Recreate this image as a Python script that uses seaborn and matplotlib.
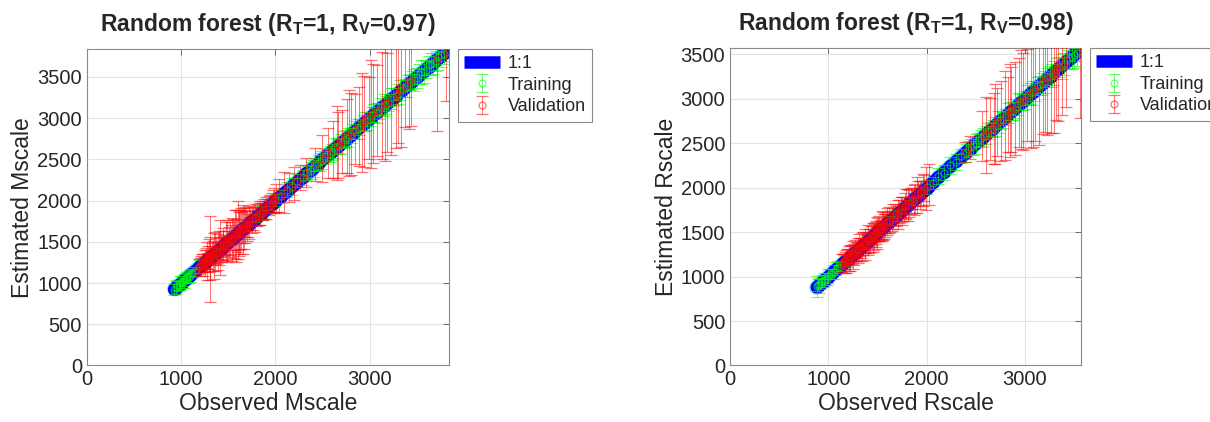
import matplotlib
matplotlib.use("Agg")
import matplotlib.pyplot as plt
import seaborn as sns
from matplotlib.lines import Line2D

# ---- Mscale panel (left) ----
train_obs_m = [930, 960, 990, 1020, 1050, 1080, 1110, 1150, 1190, 1240, 1300, 1370, 1450, 1530,
               1620, 1700, 1780, 1860, 1930, 2000, 2060, 2120, 2180, 2230, 2290, 2340, 2400, 2450,
               2500, 2550, 2600, 2650, 2700, 2750, 2800, 2850, 2900, 2950, 3000, 3050, 3100, 3150,
               3200, 3250, 3300, 3350, 3400, 3450, 3500, 3550, 3600, 3650, 3700, 3760, 3810,
               2325, 2375, 2425, 2475, 2525, 2575, 2625, 2675, 2725, 2775, 2825, 2875, 2925, 2975,
               3025, 3075, 3125, 3175, 3225, 3275, 3325, 3375, 3425, 3475, 3525, 3575, 3625, 3675,
               3725, 3785, 945, 975, 1005, 1035, 1065, 1095]
train_est_m = [920, 975, 1000, 1010, 1060, 1075, 1120, 1140, 1200, 1230, 1310, 1360, 1460, 1520,
               1630, 1690, 1790, 1850, 1940, 2010, 2050, 2130, 2170, 2240, 2280, 2350, 2390, 2460,
               2490, 2560, 2590, 2660, 2690, 2760, 2790, 2860, 2890, 2960, 2990, 3060, 3090, 3160,
               3190, 3260, 3290, 3360, 3390, 3460, 3490, 3560, 3590, 3660, 3690, 3770, 3800,
               2340, 2365, 2440, 2465, 2540, 2565, 2640, 2665, 2740, 2765, 2840, 2865, 2940, 2965,
               3040, 3065, 3140, 3165, 3240, 3265, 3340, 3365, 3440, 3465, 3540, 3565, 3640, 3665,
               3740, 3775, 950, 965, 1015, 1025, 1075, 1085]
train_err_m = [70, 60, 80, 50, 60, 70, 50, 60, 80, 50, 60, 70, 50, 60,
               70, 60, 50, 80, 60, 70, 80, 90, 100, 80, 90, 70, 100, 90,
               110, 80, 100, 90, 120, 100, 90, 110, 100, 120, 90, 110, 100, 130,
               100, 110, 120, 100, 130, 110, 120, 140, 100, 130, 120, 150, 110,
               90, 100, 80, 110, 90, 100, 120, 90, 100, 110, 90, 120, 100, 110,
               90, 120, 100, 110, 130, 100, 120, 110, 100, 130, 120, 140, 110, 130,
               150, 120, 80, 60, 70, 80, 60, 70]

val_obs_m = [1190, 1220, 1240, 1260, 1280, 1300, 1310, 1330, 1350, 1370, 1390, 1410, 1430, 1450,
             1470, 1490, 1510, 1530, 1550, 1570, 1590, 1600, 1620, 1640, 1660, 1680, 1700, 1720,
             1750, 1780, 1810, 1840, 1870, 1900, 1930, 1960, 1990, 2040, 2090, 2140, 2200, 2260,
             2330, 2420, 2500, 2560, 2610, 2660, 2710, 2760, 2800, 2850, 2890, 2940, 2990, 3040,
             3080, 3130, 3180, 3230, 3280, 3330, 3380, 3440, 3720, 3810,
             1205, 1215, 1235, 1250, 1265, 1275, 1290, 1305, 1320, 1340, 1360, 1380, 1400, 1420,
             1440, 1460, 1480, 1500, 1520, 1540, 1560, 1580, 1610, 1630, 1650, 1670, 1690, 1710,
             1735, 1765, 1795, 1825, 1855, 1885, 1915, 1945, 1975, 2010, 2650, 2780, 2920, 3010,
             3160, 3300, 3420]
val_est_m = [1200, 1240, 1230, 1280, 1270, 1330, 1290, 1350, 1330, 1390, 1380, 1430, 1420, 1470,
             1460, 1510, 1500, 1550, 1540, 1590, 1580, 1640, 1610, 1660, 1650, 1700, 1690, 1740,
             1760, 1790, 1820, 1850, 1880, 1910, 1940, 1970, 2000, 2060, 2100, 2160, 2210, 2280,
             2340, 2440, 2510, 2580, 2620, 2680, 2720, 2780, 2810, 2870, 2900, 2960, 3000, 3060,
             3090, 3150, 3190, 3250, 3290, 3350, 3390, 3460, 3720, 3800,
             1230, 1210, 1260, 1240, 1290, 1270, 1310, 1300, 1345, 1330, 1385, 1370, 1425, 1410,
             1465, 1450, 1505, 1490, 1545, 1530, 1585, 1570, 1635, 1620, 1675, 1660, 1715, 1700,
             1760, 1780, 1815, 1840, 1875, 1900, 1935, 1960, 1995, 2030, 2700, 2820, 2950, 3050,
             3180, 3320, 3450]
val_err_m = [90, 110, 80, 150, 100, 200, 520, 130, 280, 160, 220, 330, 140, 200,
             120, 250, 180, 150, 240, 300, 200, 350, 280, 250, 300, 220, 180, 200,
             150, 170, 130, 150, 120, 130, 110, 120, 150, 200, 250, 180, 200, 150,
             180, 200, 280, 300, 350, 400, 380, 450, 500, 420, 480, 550, 500, 600,
             550, 650, 600, 700, 650, 700, 500, 550, 870, 590,
             70, 120, 90, 160, 110, 230, 140, 260, 100, 180, 240, 130, 210, 150,
             170, 120, 230, 140, 200, 260, 180, 310, 230, 270, 190, 250, 160, 140,
             120, 140, 110, 130, 100, 120, 90, 110, 130, 170, 450, 520, 600, 650,
             700, 620, 580]

# ---- Rscale panel (right) ----
train_obs_r = [880, 910, 940, 970, 1000, 1040, 1080, 1120, 1170, 1230, 1300, 1380, 1460, 1540,
               1620, 1700, 1780, 1860, 1940, 2000, 2060, 2120, 2180, 2240, 2300, 2350, 2400, 2450,
               2500, 2550, 2600, 2650, 2700, 2750, 2800, 2850, 2900, 2950, 3000, 3050, 3100, 3150,
               3200, 3250, 3300, 3350, 3400, 3450, 3500, 3550,
               895, 925, 955, 985, 1020, 1060, 1100, 2425, 2475, 2525, 2575, 2625, 2675, 2725,
               2775, 2825, 2875, 2925, 2975, 3025, 3075, 3125, 3175, 3225, 3275, 3325, 3375, 3425,
               3475, 3530]
train_est_r = [890, 900, 950, 960, 1010, 1030, 1090, 1110, 1180, 1220, 1310, 1370, 1470, 1530,
               1630, 1690, 1790, 1850, 1950, 2010, 2050, 2130, 2170, 2250, 2290, 2360, 2390, 2460,
               2490, 2560, 2590, 2660, 2690, 2760, 2790, 2860, 2890, 2960, 2990, 3060, 3090, 3160,
               3190, 3260, 3290, 3360, 3390, 3460, 3490, 3540,
               905, 915, 965, 975, 1030, 1050, 1110, 2440, 2465, 2540, 2565, 2640, 2665, 2740,
               2765, 2840, 2865, 2940, 2965, 3040, 3065, 3140, 3165, 3240, 3265, 3340, 3365, 3440,
               3465, 3520]
train_err_r = [120, 80, 70, 60, 80, 60, 70, 50, 60, 70, 50, 60, 70, 60,
               50, 60, 70, 50, 60, 80, 70, 90, 80, 100, 90, 80, 100, 90,
               110, 90, 100, 80, 110, 100, 90, 100, 110, 90, 100, 120, 110, 100,
               120, 110, 130, 110, 120, 130, 140, 120,
               70, 60, 80, 70, 60, 80, 70, 90, 100, 80, 110, 90, 100, 120,
               90, 110, 100, 120, 90, 110, 130, 100, 120, 110, 130, 120, 140, 110,
               130, 150]

val_obs_r = [1140, 1160, 1180, 1200, 1220, 1240, 1260, 1280, 1300, 1320, 1340, 1360, 1380, 1400,
             1420, 1440, 1460, 1480, 1500, 1520, 1540, 1560, 1580, 1600, 1630, 1660, 1690, 1720,
             1750, 1780, 1810, 1840, 1870, 1900, 1930, 1960, 1990, 2020, 2390, 2440, 2560, 2600,
             2640, 2680, 2720, 2760, 2800, 2830, 2860, 2900, 2940, 2980, 3020, 3060, 3100, 3140,
             3180, 3220, 3260, 3300, 3340, 3380, 3420, 3560,
             1150, 1170, 1190, 1210, 1230, 1250, 1270, 1290, 1310, 1330, 1350, 1370, 1390, 1410,
             1430, 1450, 1470, 1490, 1510, 1530, 1550, 1570, 1590, 1615, 1645, 1675, 1705, 1735,
             1765, 1795, 1825, 1855, 1885, 1915, 1945, 1975, 2700, 2850, 2960, 3080, 3200, 3320]
val_est_r = [1150, 1170, 1170, 1220, 1210, 1250, 1250, 1300, 1290, 1330, 1330, 1380, 1370, 1410,
             1410, 1460, 1450, 1490, 1490, 1540, 1530, 1570, 1570, 1620, 1620, 1680, 1680, 1730,
             1740, 1800, 1800, 1850, 1860, 1920, 1920, 1970, 1990, 2040, 2400, 2450, 2580, 2590,
             2660, 2670, 2740, 2750, 2810, 2820, 2880, 2890, 2960, 2970, 3040, 3050, 3110, 3130,
             3200, 3210, 3270, 3290, 3350, 3370, 3430, 3560,
             1170, 1160, 1210, 1200, 1250, 1240, 1290, 1280, 1330, 1320, 1370, 1360, 1410, 1400,
             1450, 1440, 1490, 1480, 1530, 1520, 1570, 1560, 1610, 1635, 1640, 1695, 1700, 1755,
             1760, 1815, 1820, 1875, 1880, 1935, 1940, 1995, 2720, 2870, 2990, 3100, 3230, 3340]
val_err_r = [100, 80, 130, 90, 150, 110, 120, 90, 140, 100, 160, 120, 100, 170,
             130, 110, 150, 120, 180, 140, 110, 160, 130, 150, 120, 140, 110, 130,
             160, 140, 180, 150, 170, 200, 160, 180, 240, 230, 110, 130, 280, 430,
             350, 400, 380, 450, 500, 420, 480, 520, 500, 550, 520, 600, 580, 650,
             600, 620, 650, 680, 600, 550, 520, 780,
             80, 120, 100, 140, 90, 160, 120, 100, 150, 110, 130, 170, 90, 140,
             120, 160, 100, 150, 130, 110, 170, 140, 120, 150, 130, 120, 160, 140,
             130, 170, 150, 120, 160, 140, 130, 150, 450, 520, 560, 640, 600, 580]

panels = [
    dict(tr=(train_obs_m, train_est_m, train_err_m), va=(val_obs_m, val_est_m, val_err_m),
         lim=3840, name="Mscale", r_v="0.97", pos=[0.0717, 0.134, 0.2992, 0.750]),
    dict(tr=(train_obs_r, train_est_r, train_err_r), va=(val_obs_r, val_est_r, val_err_r),
         lim=3570, name="Rscale", r_v="0.98", pos=[0.6033, 0.134, 0.2901, 0.752]),
]

sns.set_style("white")
plt.rcParams["font.family"] = ["Liberation Sans", "DejaVu Sans"]
plt.rcParams["mathtext.fontset"] = "custom"
plt.rcParams["mathtext.bf"] = "Liberation Sans:bold"
plt.rcParams["mathtext.rm"] = "Liberation Sans:bold"
plt.rcParams["mathtext.default"] = "bf"

fig = plt.figure(figsize=(12.1, 4.22), dpi=100)
tick_col = "#262626"

for p in panels:
    ax = fig.add_axes(p["pos"])
    tr_x, tr_y, tr_e = p["tr"]
    va_x, va_y, va_e = p["va"]

    # 1:1 line through every observed value (thin cyan rim underneath)
    one = sorted(tr_x + va_x)
    sns.lineplot(x=one, y=one, ax=ax, color="#6fe9ff", lw=10.5, zorder=1.9, legend=False)
    sns.lineplot(x=one, y=one, ax=ax, color="#0000ff", lw=8.5, marker="o", markersize=9,
                 markerfacecolor="#0000ff", markeredgecolor="#0000ff", markeredgewidth=0.5,
                 zorder=2, legend=False)

    tr = ax.errorbar(tr_x, tr_y, yerr=tr_e, fmt="o", color="#00ff00", mfc="none", ms=5,
                     elinewidth=0.7, capsize=4, capthick=0.7, mew=0.8, alpha=0.6,
                     zorder=3, label="Training")
    va = ax.errorbar(va_x, va_y, yerr=va_e, fmt="o", color="#ff0000", mfc="none", ms=5,
                     elinewidth=0.7, capsize=4, capthick=0.7, mew=0.9, alpha=0.55,
                     zorder=4, label="Validation")

    ax.set_xlim(0, p["lim"])
    ax.set_ylim(0, p["lim"])
    ax.set_xticks([0, 1000, 2000, 3000])
    ax.set_yticks(range(0, p["lim"], 500))
    ax.grid(True, color="#e3e3e3", lw=0.8)
    ax.set_axisbelow(True)
    ax.tick_params(direction="in", top=True, right=True, length=4, width=0.6,
                   color="#555555", labelsize=14.5, labelcolor=tick_col)
    for s in ax.spines.values():
        s.set_color("#8a8a8a")
        s.set_linewidth(0.8)

    ax.set_xlabel("Observed " + p["name"], fontsize=16.5, color=tick_col, labelpad=2)
    ax.set_ylabel("Estimated " + p["name"], fontsize=16.5, color=tick_col, labelpad=2)
    ax.set_title(r"Random forest (R$_{T}$=1, R$_{V}$=" + p["r_v"] + ")",
                 fontsize=16.5, fontweight="bold", pad=13)

    h_one = Line2D([0], [0], color="#0000ff", lw=9, solid_capstyle="butt")
    leg = ax.legend([h_one, tr, va], ["1:1", "Training", "Validation"],
                    loc="upper left", bbox_to_anchor=(1.025, 1.0), borderaxespad=0,
                    fontsize=13, frameon=True, fancybox=False, framealpha=1,
                    edgecolor="#8a8a8a", handlelength=2.0, handletextpad=0.4,
                    labelspacing=0.25, borderpad=0.35)
    leg.get_frame().set_linewidth(0.8)

fig.savefig("out.png", dpi=100)
